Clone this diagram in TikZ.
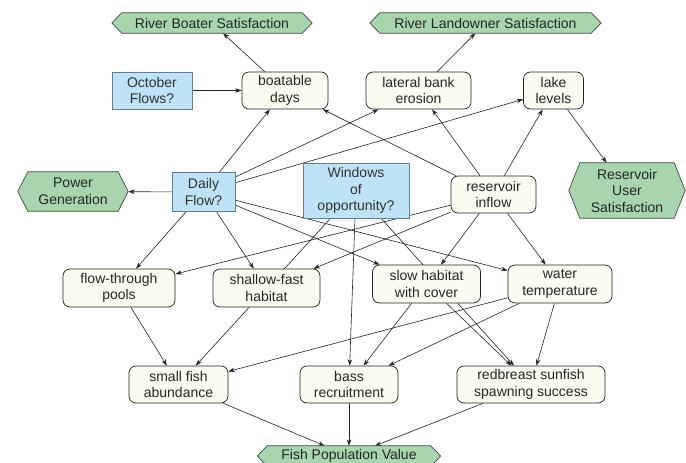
\documentclass[tikz,border=0pt]{standalone}
\usepackage{fontspec}
\setmainfont{Liberation Sans}
\usetikzlibrary{arrows.meta,calc}
\pgfdeclarelayer{edges}
\pgfdeclarelayer{hexbg}
\pgfsetlayers{edges,hexbg,main}

\definecolor{bluefill}{RGB}{190,226,246}
\definecolor{blueline}{RGB}{105,125,145}
\definecolor{greenfill}{RGB}{168,212,174}
\definecolor{creamfill}{RGB}{252,251,242}
\definecolor{edgecol}{RGB}{35,35,35}

\tikzset{
  lbl/.style={align=center, inner sep=0pt, font=\fontsize{14}{16.5}\selectfont},
  box/.style={lbl, rectangle, rounded corners=7pt, draw=edgecol, fill=creamfill, line width=0.7pt, text=black!85},
  decision/.style={lbl, rectangle, draw=blueline, fill=bluefill, line width=0.7pt, text=black!80},
  hexnode/.style={lbl, rectangle, text=black!85},
  hexshape/.style={draw=edgecol!85, fill=greenfill, line width=0.7pt},
  link/.style={-{Stealth[length=6.5pt,width=4.5pt]}, draw=edgecol, line width=0.6pt},
}

\begin{document}
\begin{tikzpicture}[x=1pt, y=-1pt]
\useasboundingbox (0,0) rectangle (686,463);

% nodes
\node[hexnode, minimum width=200pt, minimum height=20pt] (rbs) at (212,23) {River Boater Satisfaction};
\node[hexnode, minimum width=231pt, minimum height=20pt] (rls) at (485.5,23) {River Landowner Satisfaction};
\node[decision, minimum width=80pt, minimum height=37pt] (oct) at (152,90.5) {October\\Flows?};
\node[box, minimum width=86pt, minimum height=37pt] (boat) at (285,90.5) {boatable\\days};
\node[box, minimum width=105pt, minimum height=37pt] (bank) at (418.5,90.5) {lateral bank\\erosion};
\node[box, minimum width=60pt, minimum height=37pt] (lake) at (553.5,90.5) {lake\\levels};
\node[hexnode, minimum width=110pt, minimum height=39pt] (pg) at (73,191.5) {Power\\Generation};
\node[decision, minimum width=63pt, minimum height=39pt] (daily) at (203.5,192) {Daily\\Flow?};
\node[decision, minimum width=106pt, minimum height=55pt] (win) at (356,190.5) {Windows\\of\\opportunity?};
\node[box, minimum width=85pt, minimum height=37pt] (res) at (493.5,194.5) {reservoir\\inflow};
\node[hexnode, minimum width=116pt, minimum height=55pt] (rus) at (627,190.5) {Reservoir\\User\\Satisfaction};
\node[box, minimum width=112pt, minimum height=38pt] (ftp) at (119,288) {flow-through\\pools};
\node[box, minimum width=107pt, minimum height=38pt] (sfh) at (266.5,288) {shallow-fast\\habitat};
\node[box, minimum width=108pt, minimum height=38pt] (slow) at (426.5,284) {slow habitat\\with cover};
\node[box, minimum width=104pt, minimum height=38pt] (wt) at (560,284) {water\\temperature};
\node[box, minimum width=99pt, minimum height=37pt] (sfa) at (178.5,384.5) {small fish\\abundance};
\node[box, minimum width=98pt, minimum height=37pt] (bass) at (349,384.5) {bass\\recruitment};
\node[box, minimum width=148pt, minimum height=37pt] (rbss) at (531,384.5) {redbreast sunfish\\spawning success};
\node[hexnode, minimum width=183pt, minimum height=20pt] (fpv) at (349,456) {Fish Population Value};

% hexagon outlines
\begin{pgfonlayer}{hexbg}
\foreach \n/\d in {rbs/10, rls/10, pg/10, rus/11, fpv/10}{
  \filldraw[hexshape] (\n.west) -- ([xshift=\d pt]\n.north west) -- ([xshift=-\d pt]\n.north east)
    -- (\n.east) -- ([xshift=-\d pt]\n.south east) -- ([xshift=\d pt]\n.south west) -- cycle;
}
\end{pgfonlayer}

% connectors
\begin{pgfonlayer}{edges}
\fill[white] (0,0) rectangle (686,463);
\draw[link] (boat) -- (rbs);
\draw[link] (oct) -- (boat);
\draw[link] (bank) -- (rls);
\draw[link] (lake) -- (rus);
\draw[link] (daily) -- (pg);
\draw[link] (daily) -- (boat);
\draw[link] (daily) -- (bank);
\draw[link] (daily) -- (lake);
\draw[link] (daily) -- (ftp);
\draw[link] (daily) -- (sfh);
\draw[link] (daily) -- (slow);
\draw[link] (daily) -- (wt);
\draw[link] (res) -- (boat);
\draw[link] (res) -- (bank);
\draw[link] (res) -- (lake);
\draw[link] (res) -- (ftp);
\draw[link] (res) -- (sfh);
\draw[link] (res) -- (slow);
\draw[link] (res) -- (wt);
\draw[link] (win) -- (bass);
\draw[link] (win) -- (sfa);
\draw[link] (win) -- (rbss);
\draw[link] (ftp) -- (sfa);
\draw[link] (slow) -- (bass);
\draw[link] (slow) -- (rbss);
\draw[link] (wt) -- (sfa);
\draw[link] (wt) -- (bass);
\draw[link] (wt) -- (rbss);
\draw[link] (sfa) -- (fpv);
\draw[link] (bass) -- (fpv);
\draw[link] (rbss) -- (fpv);
\end{pgfonlayer}
\end{tikzpicture}
\end{document}
